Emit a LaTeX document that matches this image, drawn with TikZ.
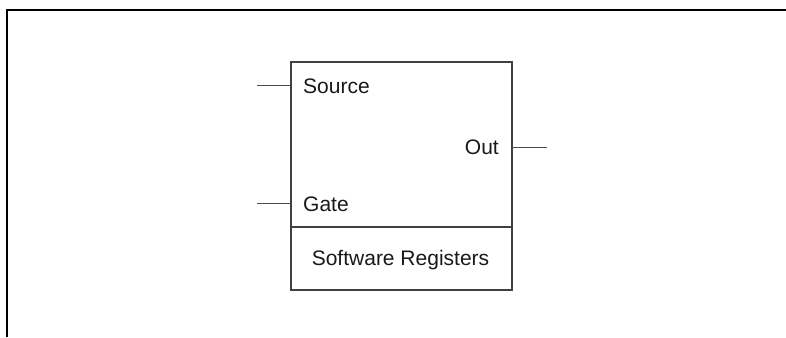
\documentclass[tikz,border=0pt]{standalone}
\usepackage{fontspec}
\setmainfont{Liberation Sans}
\begin{document}
\begin{tikzpicture}[x=1pt,y=-1pt,
  frame/.style={line width=2.2pt,black},
  boxline/.style={line width=1.1pt,draw=black!75},
  stub/.style={line width=0.9pt,draw=black!70},
  lbl/.style={font=\fontsize{21}{24}\selectfont,text=black!90,inner sep=0pt}]
\useasboundingbox (0,0) rectangle (786,337);
% outer frame (top and left)
\coordinate (fa) at (7,337);
\coordinate (fb) at (7,10);
\coordinate (fc) at (786,10);
\draw[frame] (fa) -- (fb) -- (fc);
% block
\coordinate (tl) at (291,62);
\coordinate (br) at (512,290);
\coordinate (dl) at (291,227);
\coordinate (dr) at (512,227);
\draw[boxline] (tl) rectangle (br);
\draw[boxline] (dl) -- (dr);
% labels
\node[lbl,anchor=west] (src) at (303,86) {Source};
\node[lbl,anchor=west] (gate) at (303,204) {Gate};
\node[lbl,anchor=east] (out) at (499,147) {Out};
\node[lbl] (sw) at (400.5,260) {Software Registers};
% pin stubs
\coordinate (srcpin) at (291,85);
\coordinate (srcend) at (257,85);
\coordinate (gatepin) at (291,203);
\coordinate (gateend) at (257,203);
\coordinate (outpin) at (512,147);
\coordinate (outend) at (547,147);
\draw[stub] (srcend) -- (srcpin);
\draw[stub] (gateend) -- (gatepin);
\draw[stub] (outpin) -- (outend);
\end{tikzpicture}
\end{document}
